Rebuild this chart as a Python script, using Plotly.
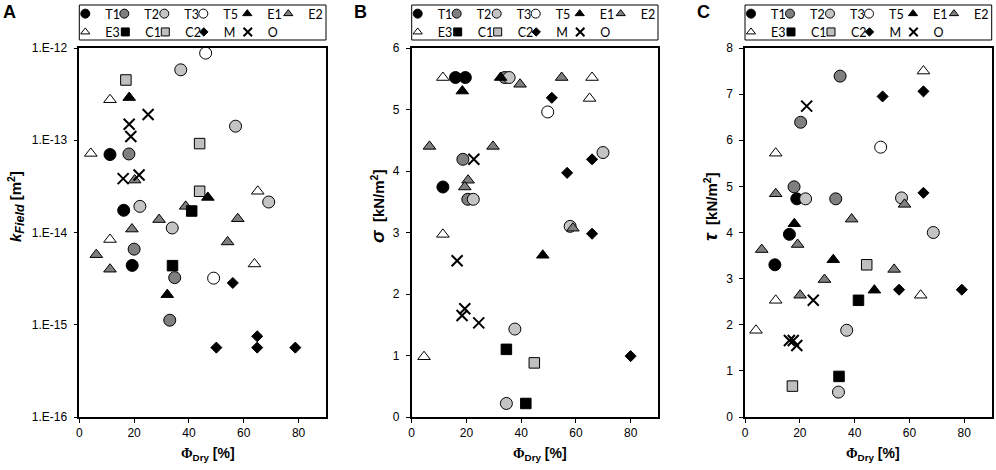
import plotly.graph_objects as go

groups = ["T1", "T2", "T3", "T5", "E1", "E2", "E3", "C1", "C2", "M", "O"]

# panel A: k_Field [m2] vs dry fraction [%]
a_grp = (["T1"] * 3 + ["T2"] * 4 + ["T3"] * 5 + ["T5"] * 2 + ["E1"] * 3 + ["E2"] * 8
         + ["E3"] * 5 + ["C1"] * 2 + ["C2"] * 3 + ["M"] * 5 + ["O"] * 5)
a_phi = [11.2, 16.2, 19.3,
         18.1, 20.0, 34.8, 33.0,
         37.0, 57.0, 69.1, 22.1, 33.9,
         46.1, 49.0,
         18.2, 46.9, 32.1,
         20.2, 38.8, 29.1, 57.8, 19.2, 54.1, 6.2, 11.2,
         11.2, 4.2, 65.1, 11.2, 63.9,
         41.0, 34.0,
         17.0, 43.9, 43.9,
         56.0, 64.9, 50.0, 64.9, 78.8,
         25.1, 18.2, 18.8, 16.0, 21.8]
a_k = [7.0e-14, 1.74e-14, 4.4e-15,
       7.1e-14, 6.6e-15, 3.24e-15, 1.12e-15,
       5.8e-13, 1.42e-13, 2.14e-14, 1.92e-14, 1.12e-14,
       8.8e-13, 3.2e-15,
       2.9e-13, 2.4e-14, 2.12e-15,
       3.7e-14, 1.92e-14, 1.38e-14, 1.41e-14, 1.09e-14, 7.9e-15, 5.75e-15, 4.0e-15,
       2.75e-13, 7.2e-14, 2.8e-14, 8.4e-15, 4.56e-15,
       1.71e-14, 4.37e-15,
       4.5e-13, 9.2e-14, 2.8e-14,
       2.84e-15, 7.5e-16, 5.65e-16, 5.65e-16, 5.65e-16,
       1.9e-13, 1.49e-13, 1.1e-13, 3.84e-14, 4.2e-14]

# panel B: sigma [kN/m2]
b_grp = (["T1"] * 3 + ["T2"] * 3 + ["T3"] * 6 + ["T5"] * 1 + ["E1"] * 3 + ["E2"] * 7
         + ["E3"] * 5 + ["C1"] * 2 + ["C2"] * 1 + ["M"] * 5 + ["O"] * 5)
b_phi = [16.0, 19.6, 11.4,
         34.0, 18.7, 20.5,
         35.6, 69.9, 22.5, 57.9, 37.7, 34.6,
         49.7,
         18.5, 32.5, 47.9,
         39.6, 54.8, 6.5, 29.7, 20.6, 19.4, 58.9,
         11.4, 65.9, 65.0, 11.4, 4.5,
         34.6, 41.7,
         44.8,
         51.2, 65.9, 56.8, 65.9, 80.0,
         22.7, 16.6, 19.4, 18.4, 24.5]
b_sigma = [5.52, 5.52, 3.74,
           5.52, 4.19, 3.54,
           5.52, 4.30, 3.54, 3.10, 1.43, 0.22,
           4.96,
           5.30, 5.52, 2.63,
           5.41, 5.52, 4.40, 4.40, 3.85, 3.74, 3.07,
           5.52, 5.52, 5.18, 2.97, 0.98,
           1.10, 0.22,
           0.88,
           5.19, 4.19, 3.97, 2.98, 0.99,
           4.19, 2.54, 1.76, 1.65, 1.53]

# panel C: tau [kN/m2]
c_grp = (["T1"] * 3 + ["T2"] * 4 + ["T3"] * 5 + ["T5"] * 1 + ["E1"] * 3 + ["E2"] * 8
         + ["E3"] * 5 + ["C1"] * 2 + ["C2"] * 2 + ["M"] * 5 + ["O"] * 5)
c_phi = [18.9, 16.2, 10.9,
         34.7, 20.3, 17.9, 33.1,
         22.1, 57.1, 68.7, 37.1, 34.1,
         49.5,
         18.0, 32.2, 47.2,
         11.2, 58.2, 38.9, 6.1, 19.2, 54.4, 29.0, 20.1,
         65.1, 11.2, 64.1, 11.2, 4.0,
         41.4, 34.3,
         44.4, 17.3,
         65.1, 50.2, 65.1, 56.2, 79.1,
         22.5, 24.9, 16.2, 17.6, 18.9]
c_tau = [4.73, 3.96, 3.30,
         7.39, 6.39, 4.99, 4.73,
         4.73, 4.75, 4.00, 1.88, 0.54,
         5.85,
         4.19, 3.41, 2.75,
         4.84, 4.61, 4.29, 3.63, 3.74, 3.20, 2.98, 2.64,
         7.50, 5.72, 2.64, 2.53, 1.88,
         2.53, 0.88,
         3.30, 0.67,
         7.06, 6.95, 4.86, 2.76, 2.76,
         6.74, 2.53, 1.66, 1.66, 1.55]

fills = ["black", "#7f7f7f", "#c4c4c4", "white", "black", "#7f7f7f", "white",
         "black", "#bfbfbf", "black", "black"]
symbols = ["circle", "circle", "circle", "circle", "triangle-up", "triangle-up",
           "triangle-up", "square", "square", "diamond", "x-thin-open"]
sizes = [12, 12, 12, 12, 11, 11, 11, 10.5, 10.5, 8.5, 11]
leg_sizes = [9, 9, 9, 9, 8, 8, 8, 8, 8, 6.5, 8.5]

W, H = 996, 470
MT, MB = 48, 53
PH = H - MT - MB
panel_px = [(79.3, 326.0), (411.7, 658.0), (745.0, 991.7)]
# legend marker positions from the plot's left edge (row 1: 6 entries, row 2: 5)
leg_off = [6, 45, 85, 124, 168, 209, 6, 46, 86, 124.5, 168.5]
leg_row_y = [14.0, 32.3]

fig = go.Figure()

panels = [(a_phi, a_k, a_grp), (b_phi, b_sigma, b_grp), (c_phi, c_tau, c_grp)]
legends = {}
for p, (xs, ys, gs) in enumerate(panels):
    sfx = "" if p == 0 else str(p + 1)
    x0, x1 = panel_px[p]
    for i, g in enumerate(groups):
        px = [x for x, gg in zip(xs, gs) if gg == g]
        py = [y for y, gg in zip(ys, gs) if gg == g]
        if symbols[i] == "x-thin-open":
            mk = dict(symbol=symbols[i], size=sizes[i], color="black", line=dict(color="black", width=2))
        else:
            mk = dict(symbol=symbols[i], size=sizes[i], color=fills[i], line=dict(color="black", width=1))
        fig.add_trace(go.Scatter(x=px, y=py, mode="markers", marker=mk, name=g,
                                 showlegend=False, xaxis="x" + sfx, yaxis="y" + sfx))
        # legend-only entry with a smaller marker, one small legend per entry
        lk = dict(mk)
        lk["size"] = leg_sizes[i]
        idx = p * 11 + i
        lname = "legend" if idx == 0 else "legend" + str(idx + 1)
        fig.add_trace(go.Scatter(x=[None], y=[None], mode="markers", marker=lk, name=g,
                                 showlegend=True, legend=lname, xaxis="x" + sfx, yaxis="y" + sfx))
        row = 0 if i < 6 else 1
        legends[lname] = dict(orientation="h", x=(x0 + leg_off[i] - 20) / W, xanchor="left",
                              y=1 + (MT - leg_row_y[row]) / PH, yanchor="middle",
                              font=dict(family="Lato, Liberation Sans", size=12.5, color="black"),
                              bgcolor="rgba(0,0,0,0)", borderwidth=0)

tick_font = dict(family="Liberation Sans, Arial", size=12, color="black")
title_font = dict(family="Liberation Sans, Arial", size=14, color="black")

axis_common = dict(showline=True, linecolor="black", linewidth=1.5, mirror=True,
                   ticks="outside", ticklen=4, tickwidth=1.2, tickcolor="black",
                   showgrid=False, zeroline=False, tickfont=tick_font)

xtitle = '<b><span style="font-family:Liberation Serif">Φ</span><sub>Dry</sub> [%]</b>'
ytitles = ['<b><i>k</i><sub><i><span style="font-size:12.5px">Field</span></i></sub> [m<sup>2</sup>]</b>',
           '<b><i><span style="font-size:19px">σ</span></i>\u00a0\u00a0[kN/m<sup>2</sup>]</b>',
           '<b><i><span style="font-size:19px">τ</span></i>\u00a0\u00a0[kN/m<sup>2</sup>]</b>']
ytitle_x = [16, 377, 710]
letters = ["A", "B", "C"]
letter_x = [9, 360, 703]

layout = dict(width=W, height=H, margin=dict(l=0, r=0, t=MT, b=MB, autoexpand=False),
              plot_bgcolor="white", paper_bgcolor="white", showlegend=True)
layout.update(legends)
annotations = []
shapes = []
for p in range(3):
    sfx = "" if p == 0 else str(p + 1)
    x0, x1 = panel_px[p]
    layout["xaxis" + sfx] = dict(domain=[x0 / W, x1 / W], range=[0, 90], tickvals=[0, 20, 40, 60, 80],
                                 anchor="y" + sfx, **axis_common)
    ya = dict(domain=[0, 1], anchor="x" + sfx, ticklabelstandoff=4, **axis_common)
    if p == 0:
        ya.update(type="log", range=[-16, -12],
                  tickvals=[1e-16, 1e-15, 1e-14, 1e-13, 1e-12],
                  ticktext=["1.E-16", "1.E-15", "1.E-14", "1.E-13", "1.E-12"])
    elif p == 1:
        ya.update(range=[0, 6], dtick=1)
    else:
        ya.update(range=[0, 8], dtick=1)
    layout["yaxis" + sfx] = ya

    # axis titles
    annotations.append(dict(text=xtitle, xref="paper", yref="paper",
                            x=((x0 + x1) / 2 + 5) / W, y=-(454 - (H - MB)) / PH,
                            xanchor="center", yanchor="middle", showarrow=False, font=title_font))
    annotations.append(dict(text=ytitles[p], xref="paper", yref="paper", textangle=-90,
                            x=ytitle_x[p] / W, y=1 - (207 - MT) / PH,
                            xanchor="center", yanchor="middle", showarrow=False,
                            font=dict(family="Liberation Sans, Arial", size=15, color="black")))

    # legend frame and panel letter
    shapes.append(dict(type="rect", xref="paper", yref="paper",
                       x0=x0 / W, x1=x1 / W, y0=1 + (MT - 40) / PH, y1=1 + (MT - 5) / PH,
                       line=dict(color="black", width=1), fillcolor="rgba(0,0,0,0)"))
    annotations.append(dict(text="<b>" + letters[p] + "</b>", xref="paper", yref="paper",
                            x=letter_x[p] / W, y=1 + (MT - 12) / PH, xanchor="center", yanchor="middle",
                            showarrow=False, font=dict(family="Liberation Sans, Arial", size=18, color="black")))

layout["annotations"] = annotations
layout["shapes"] = shapes
fig.update_layout(**layout)

# the page body keeps its default 8px margin otherwise
fig.write_html("out.html", config={"displayModeBar": False},
               post_script="document.body.style.margin='0px';")
